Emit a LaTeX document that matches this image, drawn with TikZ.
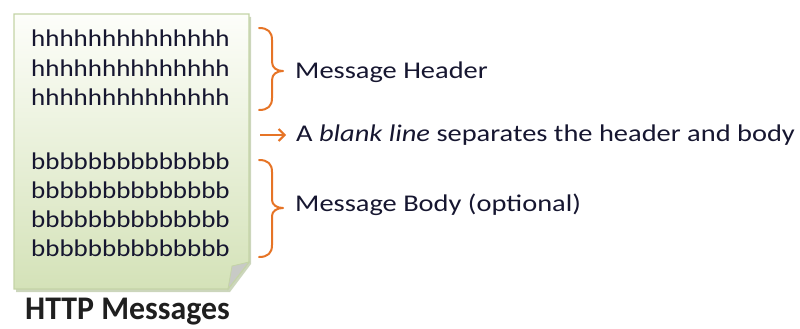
\documentclass[tikz,border=0pt]{standalone}
\usepackage{fontspec}
\setmainfont{Carlito}
\newfontfamily\labfont[FakeStretch=1.185]{Carlito}
\newfontfamily\docfont[FakeStretch=1.125]{Carlito}
\newfontfamily\ttlfont[FakeStretch=0.965]{Carlito}
\usetikzlibrary{arrows.meta}
\definecolor{ink}{RGB}{22,22,48}
\definecolor{orng}{RGB}{230,116,38}
\definecolor{docTop}{RGB}{253,254,250}
\definecolor{docBot}{RGB}{212,226,184}
\definecolor{docEdge}{RGB}{196,212,166}
\definecolor{docShadow}{RGB}{182,196,160}
\definecolor{flap}{RGB}{200,202,198}
\tikzset{
  doctxt/.style={anchor=base west, inner sep=0pt, text=ink, font=\docfont\fontsize{24}{29}\selectfont},
  labtxt/.style={anchor=base west, inner sep=0pt, text=ink, font=\labfont\fontsize{24}{29}\selectfont},
  brace/.style={draw=orng, line width=2pt, line cap=round, line join=round},
  arr/.style={draw=orng, line width=2pt, -{Straight Barb[length=6pt,width=12pt,line width=2pt]}},
}
\begin{document}
\begin{tikzpicture}[x=1pt,y=-1pt]
\useasboundingbox (0,0) rectangle (800,329);
% shadow
\fill[docShadow, opacity=0.7] (16,17) -- (251,17) -- (251,264) -- (230,292) -- (16,292) -- cycle;
% page
\path[draw=docEdge, line width=1.3pt, top color=docTop, bottom color=docBot]
  (14,14) -- (249,14) -- (249,262) -- (228,289) -- (14,289) -- cycle;
% folded corner flap
\path[fill=flap, draw=docEdge, line width=0.8pt] (249,262) -- (228,289) -- (232,266) -- cycle;
% header lines
\node[doctxt] (h1) at (31,46.5) {hhhhhhhhhhhhhh};
\node[doctxt] (h2) at (31,76) {hhhhhhhhhhhhhh};
\node[doctxt] (h3) at (31,105.5) {hhhhhhhhhhhhhh};
% body lines
\node[doctxt] (b1) at (31,169) {bbbbbbbbbbbbbb};
\node[doctxt] (b2) at (31,198.3) {bbbbbbbbbbbbbb};
\node[doctxt] (b3) at (31,227.5) {bbbbbbbbbbbbbb};
\node[doctxt] (b4) at (31,256.7) {bbbbbbbbbbbbbb};
% braces
\path[brace] (259,28) .. controls (268,28) and (272,32) .. (272,40) -- (272,62)
  .. controls (272,68) and (277,71) .. (283,71)
  .. controls (277,71) and (272,74) .. (272,80) -- (272,98)
  .. controls (272,106) and (268,110) .. (259,110);
\path[brace] (259,160) .. controls (268,160) and (272,164) .. (272,172) -- (272,200)
  .. controls (272,205) and (277,208) .. (283,208)
  .. controls (277,208) and (272,211) .. (272,216) -- (272,245)
  .. controls (272,253) and (268,257) .. (259,257);
% labels
\node[labtxt] (mh) at (295,78.3) {Message Header};
\node[labtxt] (bl) at (296,141.7) {A \textit{blank line} separates the header and body};
\node[labtxt] (mb) at (295,211.7) {Message Body (optional)};
\coordinate (arrS) at (260,135);
\coordinate (arrE) at (286,135);
\draw[arr] (arrS) -- (arrE);
% title
\node[anchor=base west, inner sep=0pt, text=black!88, font=\ttlfont\bfseries\fontsize{33}{40}\selectfont] (title) at (25,319) {HTTP Messages};
\end{tikzpicture}
\end{document}
